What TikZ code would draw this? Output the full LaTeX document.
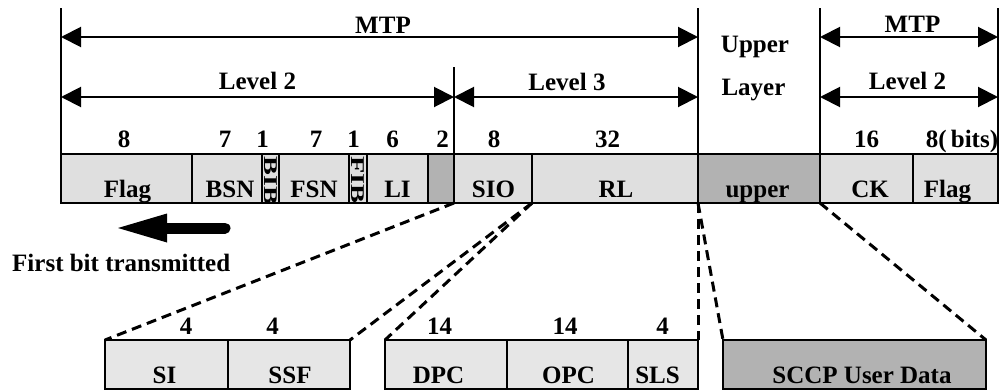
\documentclass[tikz,border=0pt]{standalone}
\usepackage{fontspec}
\setmainfont{Liberation Serif}
\usepackage{graphicx}
\usetikzlibrary{arrows.meta}

\definecolor{fieldlight}{RGB}{223,223,223}
\definecolor{fielddark}{RGB}{178,178,178}
\definecolor{subfield}{RGB}{230,230,230}

\tikzset{
  fieldbox/.style={draw=black, line width=2pt, inner sep=0pt, outer sep=0pt,
                   minimum height=49pt, anchor=north west},
  lbl/.style={font=\fontsize{25}{30}\selectfont\bfseries, inner sep=0pt, anchor=base},
  vtext/.style={font=\fontsize{19.5}{22}\selectfont\bfseries, inner sep=0pt,
                rotate=-90, anchor=base west},
  span/.style={line width=2pt,
               {Triangle[length=20pt,width=20pt]}-{Triangle[length=20pt,width=20pt]}},
  guide/.style={line width=2pt},
  zoomline/.style={line width=3pt, dash pattern=on 10pt off 6pt},
}

% \field{name}{left x}{right x}{top y}{fill}
\newcommand\field[5]{%
  \node[fieldbox, fill=#5, minimum width={(#3-#2)*1pt}] (#1) at (#2,#4) {};}

\begin{document}
\begin{tikzpicture}[x=1pt, y=-1pt]
  \useasboundingbox (0,0) rectangle (1002,391);

  % ---- signal unit ----
  \field{flagA}{61}{192}{154}{fieldlight}
  \field{bsn}{192}{262}{154}{fieldlight}
  \field{bib}{262}{279}{154}{fieldlight}
  \field{fsn}{279}{349}{154}{fieldlight}
  \field{fib}{349}{367}{154}{fieldlight}
  \field{li}{367}{428}{154}{fieldlight}
  \field{spare}{428}{454}{154}{fielddark}
  \field{sio}{454}{532}{154}{fieldlight}
  \field{rl}{532}{698}{154}{fieldlight}
  \field{up}{698}{820}{154}{fielddark}
  \field{ck}{820}{913}{154}{fieldlight}
  \field{flagB}{913}{998}{154}{fieldlight}

  \node[lbl] (tFlagA) at (127.5,197) {Flag};
  \node[lbl] (tBsn)   at (230,197)   {BSN};
  \node[lbl] (tFsn)   at (314,197)   {FSN};
  \node[lbl] (tLi)    at (397.5,197) {LI};
  \node[lbl] (tSio)   at (493.5,197) {SIO};
  \node[lbl] (tRl)    at (616,197)   {RL};
  \node[lbl] (tUp)    at (757.5,197) {upper};
  \node[lbl] (tCk)    at (870,197)   {CK};
  \node[lbl] (tFlagB) at (947.5,197) {Flag};

  % indicator bits, written downwards and cut off by their narrow boxes
  \begin{scope}
    \clip (263,155) rectangle (278,202);
    \node[vtext] (tBib) at (264,156) {\scalebox{1.45}[1]{BIB}};
  \end{scope}
  \begin{scope}
    \clip (350,155) rectangle (366,202);
    \node[vtext] (tFib) at (351,156) {\scalebox{1.45}[1]{FIB}};
  \end{scope}

  % field lengths
  \node[lbl] (nFlagA) at (124,147)   {8};
  \node[lbl] (nBsn)   at (225,147)   {7};
  \node[lbl] (nBib)   at (262.5,147) {1};
  \node[lbl] (nFsn)   at (316,147)   {7};
  \node[lbl] (nFib)   at (353.5,147) {1};
  \node[lbl] (nLi)    at (392.5,147) {6};
  \node[lbl] (nSp)    at (442.5,147) {2};
  \node[lbl] (nSio)   at (494,147)   {8};
  \node[lbl] (nRl)    at (607.5,147) {32};
  \node[lbl] (nCk)    at (866.5,147) {16};
  \node[lbl] (nFlagB) at (962,147)   {8(\,bits)};

  % ---- layer boundaries ----
  \coordinate (b0) at (61,8);
  \coordinate (b1) at (454,67);
  \coordinate (b2) at (698,8);
  \coordinate (b3) at (820,8);
  \coordinate (b4) at (998,8);
  \draw[guide] (b0) -- (flagA.north west);
  \draw[guide] (b1) -- (sio.north west);
  \draw[guide] (b2) -- (up.north west);
  \draw[guide] (b3) -- (ck.north west);
  \draw[guide] (b4) -- (flagB.north east);

  \coordinate (m0) at (61,37);   \coordinate (m1) at (698,37);
  \coordinate (l0) at (61,97);   \coordinate (l1) at (454,97);
  \coordinate (l2) at (698,97);
  \coordinate (r0) at (820,37);  \coordinate (r1) at (998,37);
  \coordinate (r2) at (820,97);  \coordinate (r3) at (998,97);
  \draw[span] (m0) -- (m1);
  \draw[span] (l0) -- (l1);
  \draw[span] (l1) -- (l2);
  \draw[span] (r0) -- (r1);
  \draw[span] (r2) -- (r3);

  \node[lbl] (hMtp)  at (383,33)   {MTP};
  \node[lbl] (hL2)   at (257.5,89) {Level 2};
  \node[lbl] (hL3)   at (567,90)   {Level 3};
  \node[lbl] (hUp1)  at (755,52)   {Upper};
  \node[lbl] (hUp2)  at (753.5,95) {Layer};
  \node[lbl] (hMtpR) at (912.5,32) {MTP};
  \node[lbl] (hL2R)  at (907.5,89) {Level 2};

  % ---- transmission direction ----
  \draw[line width=11pt, line cap=round] (166,228) -- (225,228);
  \fill (118,228) -- (167,213.5) -- (167,242.5) -- cycle;
  \node[lbl, anchor=base west] (first) at (12,271) {First bit transmitted};

  % ---- expanded fields ----
  \field{si}{105}{228}{340}{subfield}
  \field{ssf}{228}{350}{340}{subfield}
  \field{dpc}{385}{507}{340}{subfield}
  \field{opc}{507}{628}{340}{subfield}
  \field{sls}{628}{698}{340}{subfield}
  \field{sccp}{723}{986}{340}{fielddark}

  \node[lbl] (tSi)   at (164.5,383.5) {SI};
  \node[lbl] (tSsf)  at (290,383.5)   {SSF};
  \node[lbl] (tDpc)  at (438.5,383.5) {DPC};
  \node[lbl] (tOpc)  at (568.5,383.5) {OPC};
  \node[lbl] (tSls)  at (657.5,383.5) {SLS};
  \node[lbl] (tSccp) at (862,383.5)   {SCCP User Data};

  \node[lbl] (nSi)  at (186,334)   {4};
  \node[lbl] (nSsf) at (272.5,334) {4};
  \node[lbl] (nDpc) at (439.5,334) {14};
  \node[lbl] (nOpc) at (565,334)   {14};
  \node[lbl] (nSls) at (662.5,334) {4};

  \draw[zoomline] (spare.south east) -- (si.north west);
  \draw[zoomline] (sio.south east) -- (ssf.north east);
  \draw[zoomline] (sio.south east) -- (dpc.north west);
  \draw[zoomline] (rl.south east) -- (sls.north east);
  \draw[zoomline] (rl.south east) -- (sccp.north west);
  \draw[zoomline] (up.south east) -- (sccp.north east);
\end{tikzpicture}
\end{document}
